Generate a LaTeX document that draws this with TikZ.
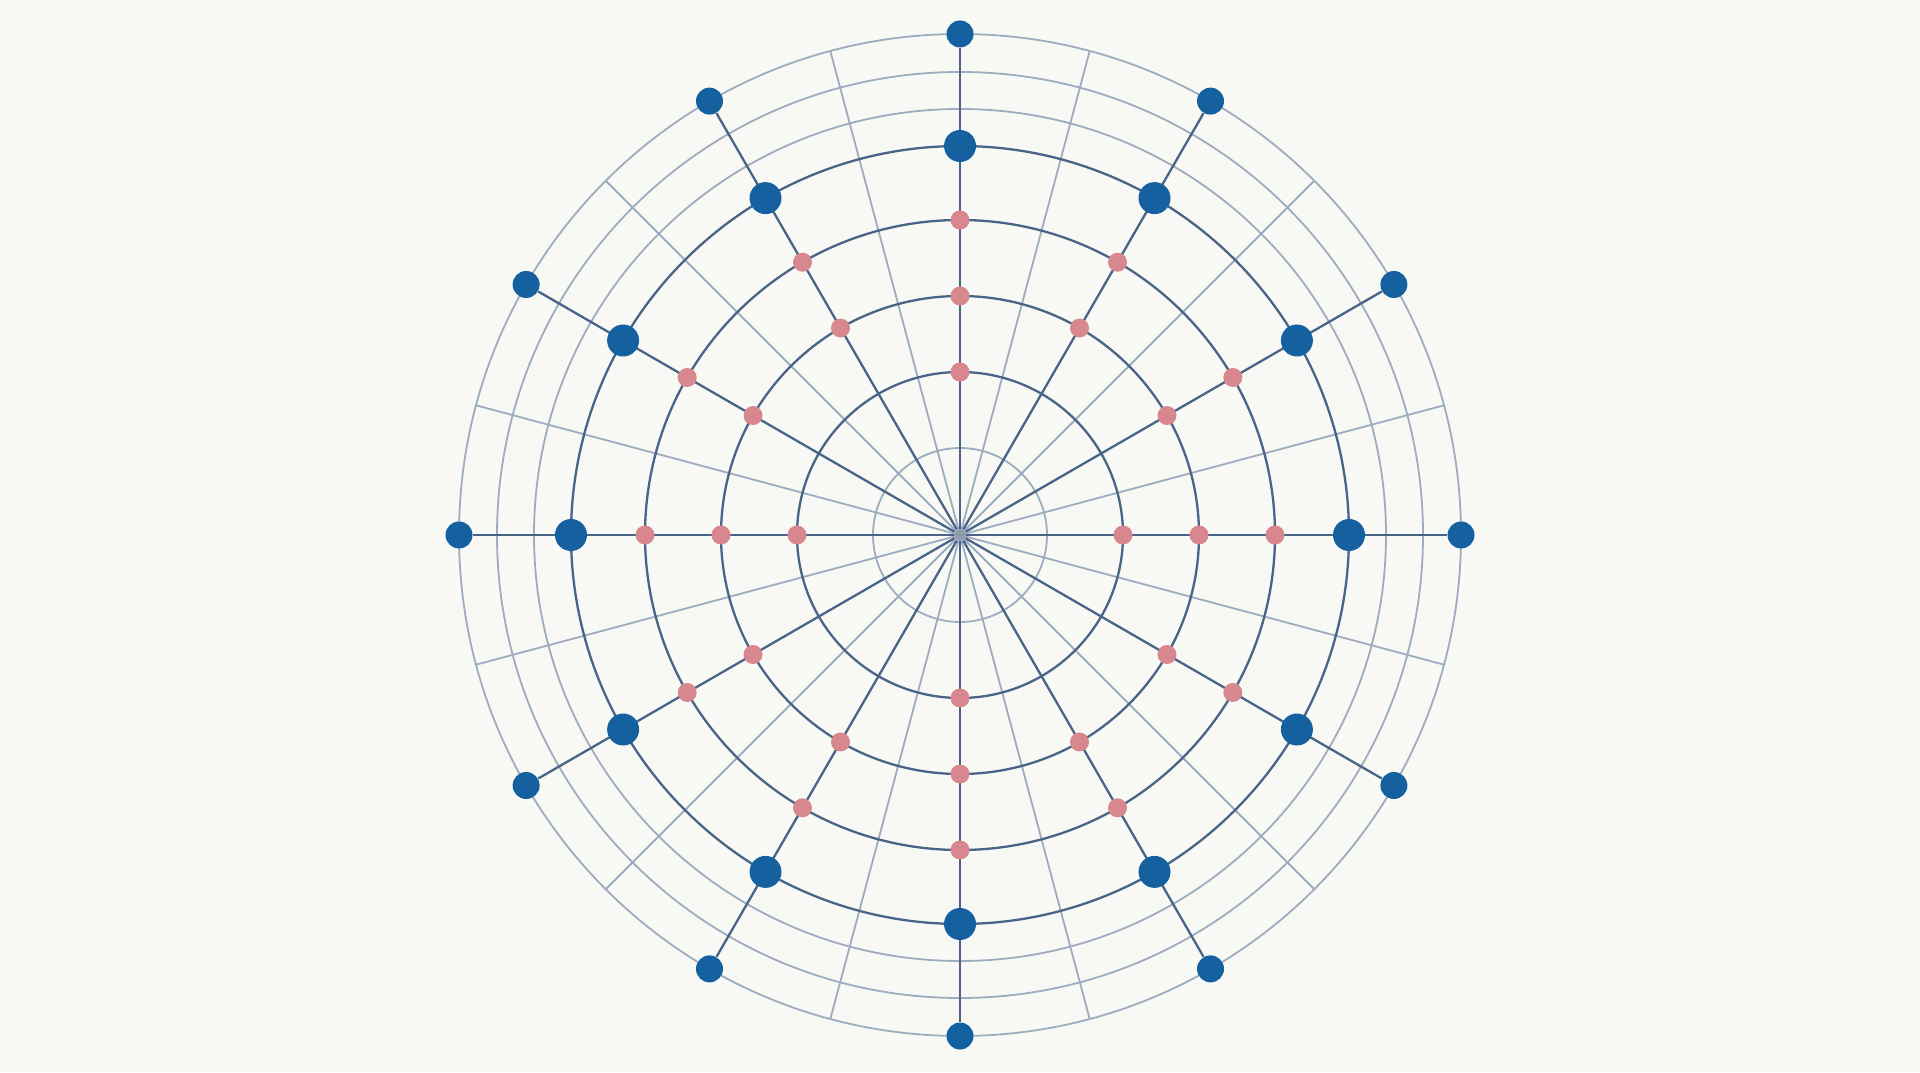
\documentclass[tikz,border=0pt]{standalone}
\usetikzlibrary{backgrounds}
\definecolor{bgc}{HTML}{F8F9F4}
\definecolor{darkline}{HTML}{4A6488}
\definecolor{lightline}{HTML}{9DACBF}
\definecolor{dotblue}{HTML}{15609E}
\definecolor{dotpink}{HTML}{D9878E}
\definecolor{hubgray}{HTML}{8D9CAE}
\tikzset{
  darkstroke/.style={draw=darkline, line width=1.15pt},
  lightstroke/.style={draw=lightline, line width=0.9pt},
  bigdot/.style={circle, fill=dotblue, inner sep=0pt, minimum size=16pt},
  outdot/.style={circle, fill=dotblue, inner sep=0pt, minimum size=13.5pt},
  pinkdot/.style={circle, fill=dotpink, inner sep=0pt, minimum size=9.5pt},
  hubdot/.style={circle, fill=hubgray, inner sep=0pt, minimum size=6pt},
}
\begin{document}
\begin{tikzpicture}[x=0.5pt,y=0.5pt]
\useasboundingbox (0,0) rectangle (1920,1072);
\begin{scope}[shift={(960,537)}]
  \node[hubdot] (c) at (0,0) {};
  \foreach \k in {0,...,11} {
    \node[bigdot] (b\k) at ({30*\k}:389) {};
    \node[outdot] (o\k) at ({30*\k}:501) {};
    \coordinate (l\k) at ({30*\k+15}:501);
    \node[pinkdot] (pb\k) at ({30*\k}:239) {};
    \node[pinkdot] (pc\k) at ({30*\k}:315) {};
  }
  \foreach \k in {0,3,6,9} {
    \node[pinkdot] (pa\k) at ({30*\k}:163) {};
  }
  \begin{scope}[on background layer]
    \fill[bgc] (-960,-537) rectangle (960,535);
    \foreach \k in {0,...,11} {
      \draw[lightstroke] (c) -- (l\k);
    }
    \draw[lightstroke] (c) circle[radius=87];
    \draw[lightstroke] (c) circle[radius=426];
    \draw[lightstroke] (c) circle[radius=463];
    \draw[lightstroke] (c) circle[radius=501];
    \draw[darkstroke] (c) circle[radius=163];
    \draw[darkstroke] (c) circle[radius=239];
    \draw[darkstroke] (c) circle[radius=315];
    \draw[darkstroke] (c) circle[radius=389];
    \foreach \k in {0,...,11} {
      \draw[darkstroke] (c) -- (o\k);
    }
  \end{scope}
\end{scope}
\end{tikzpicture}
\end{document}
